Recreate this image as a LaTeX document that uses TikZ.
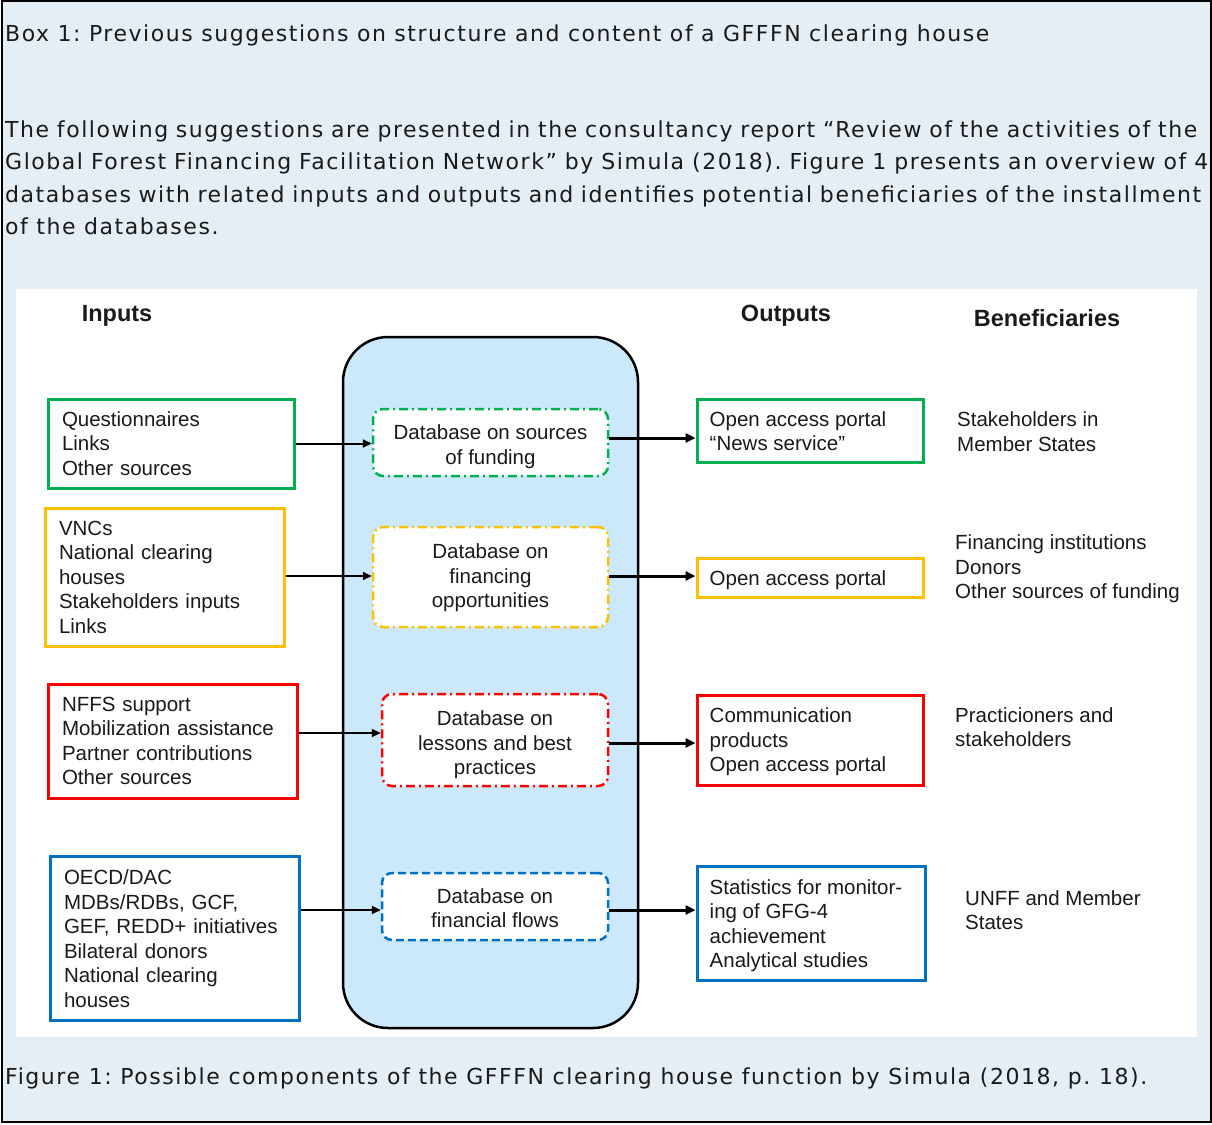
\documentclass[tikz,border=0pt]{standalone}
\usepackage{fontspec}
\setmainfont{Liberation Sans}
\newfontfamily\boxfont[LetterSpace=7]{DejaVu Sans}
\usetikzlibrary{arrows.meta}
\definecolor{bgc}{HTML}{E6EEF5}
\definecolor{lblue}{HTML}{CCE9FB}
\definecolor{cgreen}{HTML}{00B050}
\definecolor{cyellow}{HTML}{FFC000}
\definecolor{cred}{HTML}{FF0000}
\definecolor{cblue}{HTML}{0070C0}
\definecolor{txt}{HTML}{1A1A1A}
\frenchspacing
\begin{document}
\begin{tikzpicture}[x=1pt,y=-1pt,
  boxtext/.style={font=\boxfont\fontsize{22}{26}\selectfont, anchor=base west, inner sep=0pt, text=txt},
  dtext/.style={font=\fontsize{20.5}{24.5}\selectfont, text=txt},
  head/.style={font=\bfseries\fontsize{23.5}{28}\selectfont, text=txt},
  iobox/.style={draw=#1, line width=3pt, fill=white, dtext, align=left, inner xsep=14pt, inner ysep=0pt},
  outbox/.style={draw=#1, line width=3pt, fill=white, inner sep=0pt},
  dbbox/.style={draw=#1, line width=2.5pt, fill=white, rounded corners=10pt, inner sep=0pt},
  lbl/.style={dtext, align=center, inner sep=0pt},
  lbll/.style={dtext, align=left, inner sep=0pt, anchor=west},
  dashdot/.style={dash pattern=on 9pt off 4pt on 2pt off 4pt},
  dashonly/.style={dash pattern=on 8pt off 4pt},
  benef/.style={dtext, align=left, anchor=west, inner sep=0pt},
  inarrow/.style={line width=2pt, -{Triangle[length=9pt,width=8pt]}},
  outarrow/.style={line width=3pt, -{Triangle[length=10pt,width=9pt]}}
]
\useasboundingbox (0,0) rectangle (1212,1124);
\draw[fill=bgc, line width=2pt] (2,1) rectangle (1210.5,1122);
\fill[white] (16,289) rectangle (1197,1037);

% top text
\node[boxtext] (title) at (5,42) {\makebox[984pt][s]{Box 1: Previous suggestions on structure and content of a GFFFN clearing house}};
\node[boxtext] (p1) at (5,137) {\makebox[1192pt][s]{The following suggestions are presented in the consultancy report “Review of the activities of the}};
\node[boxtext] (p2) at (5,169.5) {\makebox[1203pt][s]{Global Forest Financing Facilitation Network” by Simula (2018). Figure 1 presents an overview of 4}};
\node[boxtext] (p3) at (5,202) {\makebox[1196pt][s]{databases with related inputs and outputs and identifies potential beneficiaries of the installment}};
\node[boxtext] (p4) at (5,234.5) {of the databases.};
\node[boxtext] (cap) at (5,1084) {\makebox[1142pt][s]{Figure 1: Possible components of the GFFFN clearing house function by Simula (2018, p. 18).}};

% headers
\node[head] (hin) at (117,316) {Inputs};
\node[head] (hout) at (786,316) {Outputs};
\node[head] (hben) at (1047,318) {Beneficiaries};

% central box
\node[draw, line width=2.5pt, fill=lblue, rounded corners=45pt, minimum width=295pt, minimum height=691pt, inner sep=0pt] (core) at (490.5,682.5) {};

% inputs
\node[iobox=cgreen, text width=218pt, minimum height=89pt] (in1) at (171,443.5) {Questionnaires\\Links\\Other sources};
\node[iobox=cyellow, text width=211pt, minimum height=138pt] (in2) at (164.5,577) {VNCs\\National clearing\\houses\\Stakeholders inputs\\Links};
\node[iobox=cred, text width=221pt, minimum height=114pt] (in3) at (172.5,741) {NFFS support\\Mobilization assistance\\Partner contributions\\Other sources};
\node[iobox=cblue, text width=221pt, minimum height=164pt] (in4) at (174.5,938.5) {OECD/DAC\\MDBs/RDBs, GCF,\\GEF, REDD+ initiatives\\Bilateral donors\\National clearing\\houses};

% databases
\node[dbbox=cgreen, dashdot, minimum width=235pt, minimum height=67pt] (db1) at (490.5,442.5) {};
\node[dbbox=cyellow, dashdot, minimum width=235pt, minimum height=100pt] (db2) at (490.5,577) {};
\node[dbbox=cred, dashdot, minimum width=226pt, minimum height=92pt] (db3) at (495,740) {};
\node[dbbox=cblue, dashonly, minimum width=226pt, minimum height=67pt] (db4) at (495,906.5) {};
\node[lbl] (db1t) at ([yshift=-4pt]db1.center) {Database on sources\\of funding};
\node[lbl] (db2t) at ([yshift=-1pt]db2.center) {Database on\\financing\\opportunities};
\node[lbl] (db3t) at ([yshift=-5pt]db3.center) {Database on\\lessons and best\\practices};
\node[lbl] (db4t) at ([yshift=-1.5pt]db4.center) {Database on\\financial flows};

% outputs
\node[outbox=cgreen, minimum width=226pt, minimum height=63pt] (out1) at (810,430.5) {};
\node[outbox=cyellow, minimum width=226pt, minimum height=39pt] (out2) at (810,577.5) {};
\node[outbox=cred, minimum width=226pt, minimum height=90pt] (out3) at (810,740) {};
\node[outbox=cblue, minimum width=228pt, minimum height=114pt] (out4) at (811,923) {};
\node[lbll] (out1t) at ([xshift=14pt,yshift=-0.5pt]out1.west) {Open access portal\\“News service”};
\node[lbll] (out2t) at ([xshift=14pt,yshift=-3pt]out2.west) {Open access portal};
\node[lbll] (out3t) at ([xshift=14pt,yshift=-2pt]out3.west) {Communication\\products\\Open access portal};
\node[lbll] (out4t) at ([xshift=14pt,yshift=-2.5pt]out4.west) {Statistics for monitor-\\ing of GFG-4\\achievement\\Analytical studies};

% beneficiaries
\node[benef] (b1) at (957,431.5) {Stakeholders in\\Member States};
\node[benef] (b2) at (955,569) {Financing institutions\\Donors\\Other sources of funding};
\node[benef] (b3) at (955,727) {Practicioners and\\stakeholders};
\node[benef] (b4) at (965,910) {UNFF and Member\\States};

% arrows in
\draw[inarrow] (in1.east) -- (in1.east -| db1.west);
\draw[inarrow] ([yshift=1pt]in2.east) -- ([yshift=1pt]in2.east -| db2.west);
\draw[inarrow] ([yshift=8pt]in3.east) -- ([yshift=8pt]in3.east -| db3.west);
\draw[inarrow] ([yshift=28.5pt]in4.east) -- ([yshift=28.5pt]in4.east -| db4.west);
% arrows out
\draw[outarrow] ([yshift=4.5pt]db1.east) -- ([yshift=4.5pt]db1.east -| out1.west);
\draw[outarrow] ([yshift=1pt]db2.east) -- ([yshift=1pt]db2.east -| out2.west);
\draw[outarrow] ([yshift=-3pt]db3.east) -- ([yshift=-3pt]db3.east -| out3.west);
\draw[outarrow] ([yshift=-3.5pt]db4.east) -- ([yshift=-3.5pt]db4.east -| out4.west);
\end{tikzpicture}
\end{document}
